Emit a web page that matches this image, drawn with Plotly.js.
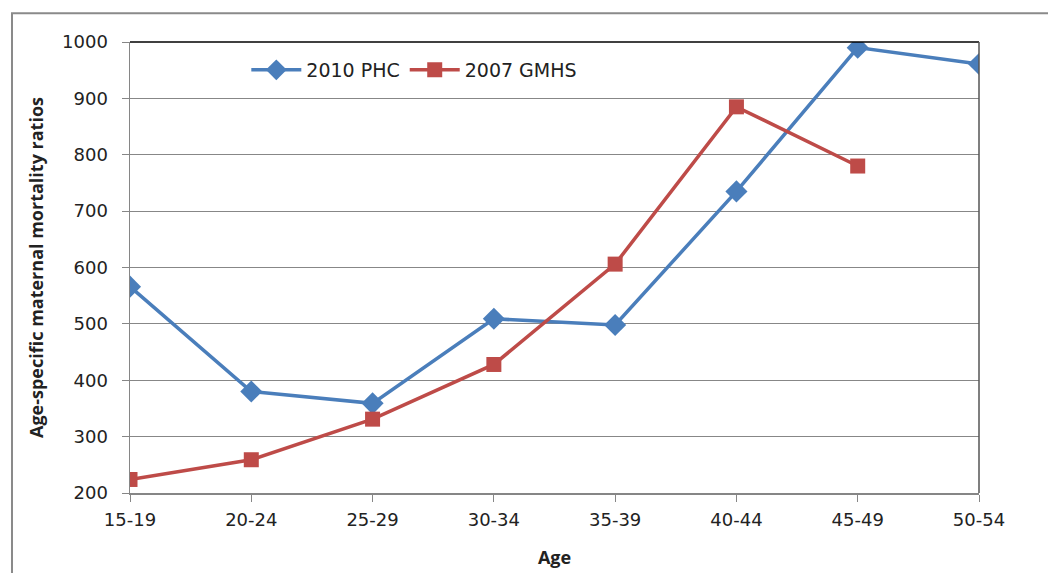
<!DOCTYPE html>
<html><head><meta charset="utf-8">
<script src="https://cdn.plot.ly/plotly-3.0.1.min.js"></script>
<style>body{margin:0;background:#fff}#c{width:1048px;height:573px}</style>
</head><body><div id="c"></div>
<script>
const ages = ["15-19","20-24","25-29","30-34","35-39","40-44","45-49","50-54"];
const phc2010 = [566, 380, 359, 509, 498, 735, 990, 961];
const gmhs2007 = [224, 259, 331, 428, 606, 885, 780];
const yTicks = [200,300,400,500,600,700,800,900,1000];

const font = "DejaVu Sans, sans-serif";
const traces = [
  {x: ages, y: phc2010, name: "2010 PHC", type: "scatter", mode: "lines+markers",
   line: {color: "#4A7EBB", width: 3.5}, marker: {symbol: "diamond", size: 17, color: "#4A7EBB"}},
  {x: ages.slice(0, gmhs2007.length), y: gmhs2007, name: "2007 GMHS", type: "scatter", mode: "lines+markers",
   line: {color: "#BE4B48", width: 3.5}, marker: {symbol: "square", size: 15, color: "#BE4B48"}}
];
const layout = {
  width: 1048, height: 573,
  margin: {l: 130, r: 69, t: 42, b: 80},
  paper_bgcolor: "#fff", plot_bgcolor: "#fff",
  font: {family: font, size: 18, color: "#222"},
  showlegend: true,
  legend: {orientation: "h", x: 0.137, y: 0.938, xanchor: "left", yanchor: "middle",
           bgcolor: "rgba(0,0,0,0)", font: {size: 19, color: "#222"}, tracegroupgap: 0, itemwidth: 50},
  xaxis: {type: "category", range: [0, 7], showgrid: false, zeroline: false,
          showline: true, linecolor: "#868686", linewidth: 1.5,
          ticks: "outside", ticklen: 7, tickcolor: "#868686", tickfont: {size: 18}, ticklabelstandoff: 3,
          title: {text: "<b>Age</b>", font: {family: "Open Sans, sans-serif", size: 18}, standoff: 22}},
  yaxis: {range: [200, 1000], tickvals: yTicks, showgrid: true, gridcolor: "#878787", gridwidth: 1,
          zeroline: false, showline: true, linecolor: "#868686", linewidth: 1.5,
          ticks: "outside", ticklen: 7, tickcolor: "#868686", tickfont: {size: 18}, ticklabelstandoff: 10,
          title: {text: "<b>Age-specific maternal mortality ratios</b>", font: {family: "Open Sans, sans-serif", size: 18}, standoff: 14}},
  shapes: [
    {type: "rect", xref: "paper", yref: "paper", x0: -0.139, x1: 1.2, y0: -0.3, y1: 1.064,
     line: {color: "#8a8a8a", width: 2}, layer: "below"},
    {type: "line", xref: "paper", yref: "paper", x0: 0, x1: 1, y0: 1, y1: 1,
     line: {color: "#000", width: 1.5}},
    {type: "line", xref: "paper", yref: "paper", x0: 1, x1: 1, y0: 0, y1: 1,
     line: {color: "#555", width: 1.5}}
  ]
};
Plotly.newPlot("c", traces, layout, {displayModeBar: false, staticPlot: true});
</script></body></html>
